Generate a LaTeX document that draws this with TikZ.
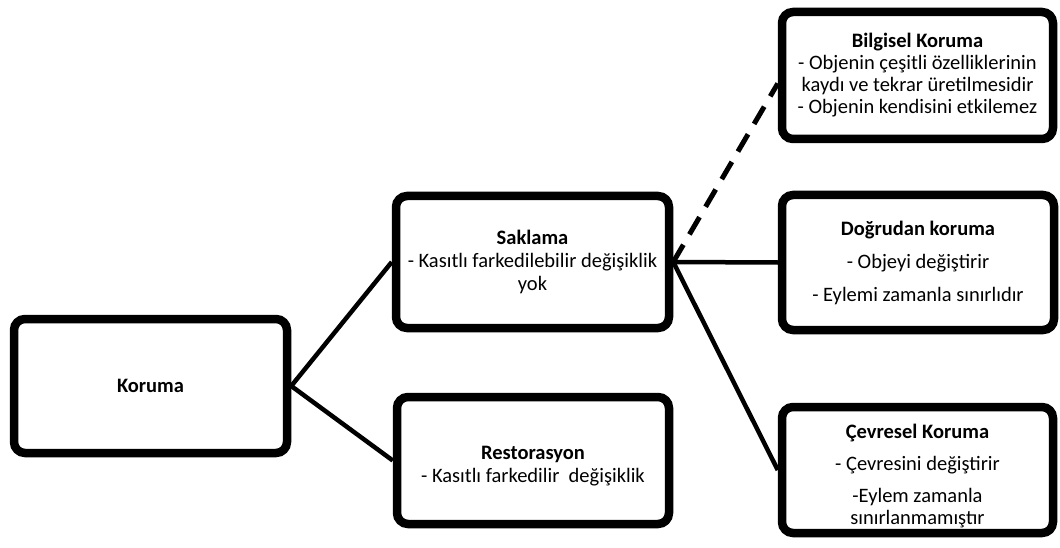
\documentclass[tikz,border=0pt]{standalone}
\usepackage{fontspec}
\setmainfont{Carlito}
\usetikzlibrary{shadows,calc}
\begin{document}
\begin{tikzpicture}[x=1pt,y=-1pt,
  boxtext/.style={align=center, font=\fontsize{20.5}{23}\selectfont, inner sep=0pt},
  box/.style={boxtext, draw=black, line width=8.5pt, rounded corners=11pt, fill=white,
    drop shadow={opacity=0.3, shadow xshift=1.5pt, shadow yshift=-3.5pt}},
  conn/.style={line width=4.5pt},
  dconn/.style={line width=5pt, dash pattern=on 20pt off 12pt},
]
\useasboundingbox (0,0) rectangle (1060,548);
\node[box, minimum width=273pt, minimum height=134pt] (kor) at (150.5,386) {\textbf{Koruma}};
\node[box, minimum width=273pt, minimum height=132pt] (sak) at (532.5,262)
  {\textbf{Saklama}\\- Kasıtlı farkedilebilir değişiklik\\yok};
\node[box, minimum width=272pt, minimum height=127pt] (res) at (533,460.5) {};
\node[boxtext] (restxt) at ($(res.center)+(0,6)$)
  {\textbf{Restorasyon}\\- Kasıtlı farkedilir\ \ değişiklik};
\node[box, minimum width=271pt, minimum height=127pt] (bil) at (917.5,75.5)
  {\textbf{Bilgisel Koruma}\\[-1pt]- Objenin çeşitli özelliklerinin\\[-1pt]kaydı ve tekrar üretilmesidir\\[-1pt]- Objenin kendisini etkilemez};
\node[box, minimum width=272pt, minimum height=135pt] (dog) at (918,262.5)
  {\textbf{Doğrudan koruma}\\[10pt]- Objeyi değiştirir\\[10pt]- Eylemi zamanla sınırlıdır};
\node[box, minimum width=271pt, minimum height=126pt] (cev) at (917.5,470) {};
\node[boxtext] (cevtxt) at ($(cev.center)+(0,6)$)
  {\textbf{Çevresel Koruma}\\[9pt]- Çevresini değiştirir\\[9pt]-Eylem zamanla\\[-1pt]sınırlanmamıştır};
\coordinate (bilin) at ($(bil.west)+(0,8)$);
\draw[conn] (kor.east) -- (sak.west);
\draw[conn] (kor.east) -- (res.west);
\draw[conn] (sak.east) -- (dog.west);
\draw[conn] (sak.east) -- (cev.west);
\draw[dconn] (sak.east) -- (bilin);
\end{tikzpicture}
\end{document}
